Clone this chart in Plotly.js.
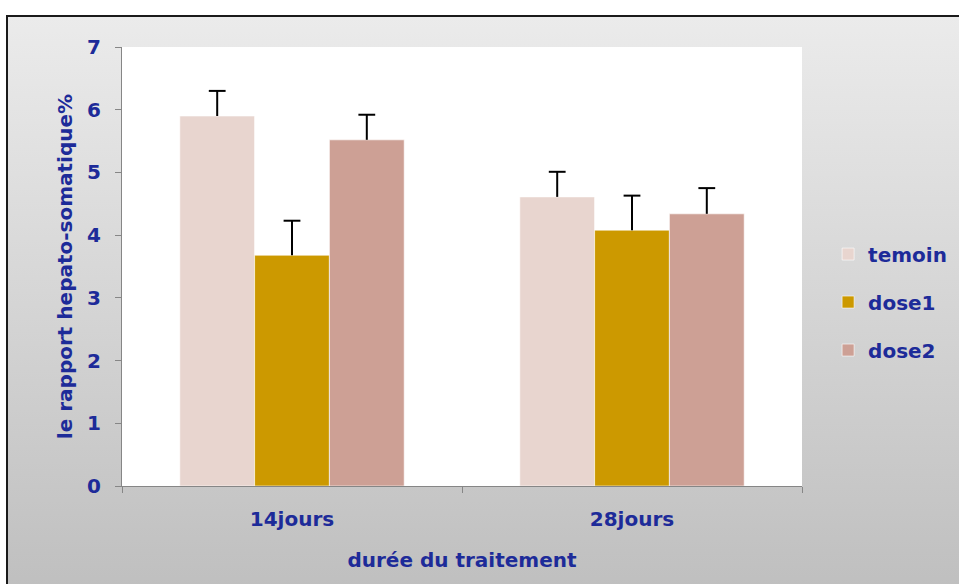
<!DOCTYPE html>
<html>
<head>
<meta charset="utf-8">
<script src="https://cdn.plot.ly/plotly-3.0.1.min.js"></script>
<style>
  html, body { margin: 0; padding: 0; width: 959px; height: 584px; overflow: hidden; background: #ffffff; }
  #frame { position: absolute; left: 6px; top: 15px; width: 1000px; height: 600px;
           border: 2px solid #1a1a1a; background: linear-gradient(#ebebeb, #bdbdbd); }
  #chart { position: absolute; left: 0; top: 0; width: 959px; height: 584px; }
</style>
</head>
<body>
<div id="frame"></div>
<div id="chart"></div>
<script>
const categories = ["14jours", "28jours"];
const seriesNames = ["temoin", "dose1", "dose2"];
const temoin = [5.90, 4.61];
const dose1 = [3.68, 4.08];
const dose2 = [5.52, 4.34];
const temoinErr = [0.40, 0.40];
const dose1Err = [0.55, 0.55];
const dose2Err = [0.40, 0.41];
const yTicks = [0, 1, 2, 3, 4, 5, 6, 7];

const colors = ["#e8d5cf", "#cc9900", "#cda095"];
const values = [temoin, dose1, dose2];
const errs = [temoinErr, dose1Err, dose2Err];
const textColor = "#1d2b99";
const fontFam = "'DejaVu Sans', sans-serif";

const barTraces = seriesNames.map((name, i) => ({
  type: "bar",
  name: name,
  legendgroup: name,
  offsetgroup: "g" + i,
  x: categories,
  y: values[i],
  marker: { color: colors[i], line: { color: "rgba(255,255,255,0.6)", width: 1 } },
  error_y: { type: "data", symmetric: false, array: errs[i], arrayminus: [0, 0],
             color: "#000000", thickness: 2, width: 0 }
}));

const capTraces = seriesNames.map((name, i) => ({
  type: "scatter",
  mode: "markers",
  name: name + " err",
  showlegend: false,
  offsetgroup: "g" + i,
  x: categories,
  y: values[i].map((v, k) => v + errs[i][k]),
  marker: { symbol: "line-ew", size: 12, line: { color: "#000000", width: 2 } },
  cliponaxis: false
}));

const layout = {
  width: 959, height: 584,
  paper_bgcolor: "rgba(0,0,0,0)",
  plot_bgcolor: "#ffffff",
  margin: { l: 122, r: 157, t: 47, b: 98 },
  barmode: "group",
  bargap: 0.34,
  bargroupgap: 0,
  scattermode: "group",
  scattergap: 0.34,
  font: { family: fontFam, color: textColor, size: 20, weight: "bold" },
  xaxis: {
    type: "category",
    showline: true, linecolor: "#868686", linewidth: 1,
    ticks: "outside", tickson: "boundaries", ticklen: 6, tickcolor: "#868686",
    ticklabelstandoff: 15,
    tickfont: { family: fontFam, size: 20, color: textColor, weight: "bold" },
    title: { text: "durée du traitement", standoff: 22,
             font: { family: fontFam, size: 20, color: textColor, weight: "bold" } },
    showgrid: false, zeroline: false
  },
  yaxis: {
    range: [0, 7],
    tickvals: yTicks,
    showline: true, linecolor: "#868686", linewidth: 1,
    ticks: "outside", ticklen: 6, tickcolor: "#868686",
    ticklabelstandoff: 10,
    tickfont: { family: fontFam, size: 20, color: textColor, weight: "bold" },
    title: { text: "le rapport hepato-somatique%", standoff: 9,
             font: { family: fontFam, size: 20, color: textColor, weight: "bold" } },
    showgrid: false, zeroline: false
  },
  showlegend: true,
  legend: {
    xref: "container", x: 0.8635, xanchor: "left",
    y: 0.419, yanchor: "middle",
    bgcolor: "rgba(0,0,0,0)",
    tracegroupgap: 19,
    font: { family: fontFam, size: 20, color: textColor, weight: "bold" }
  }
};

Plotly.newPlot("chart", barTraces.concat(capTraces), layout, { displayModeBar: false, staticPlot: true });
</script>
</body>
</html>
